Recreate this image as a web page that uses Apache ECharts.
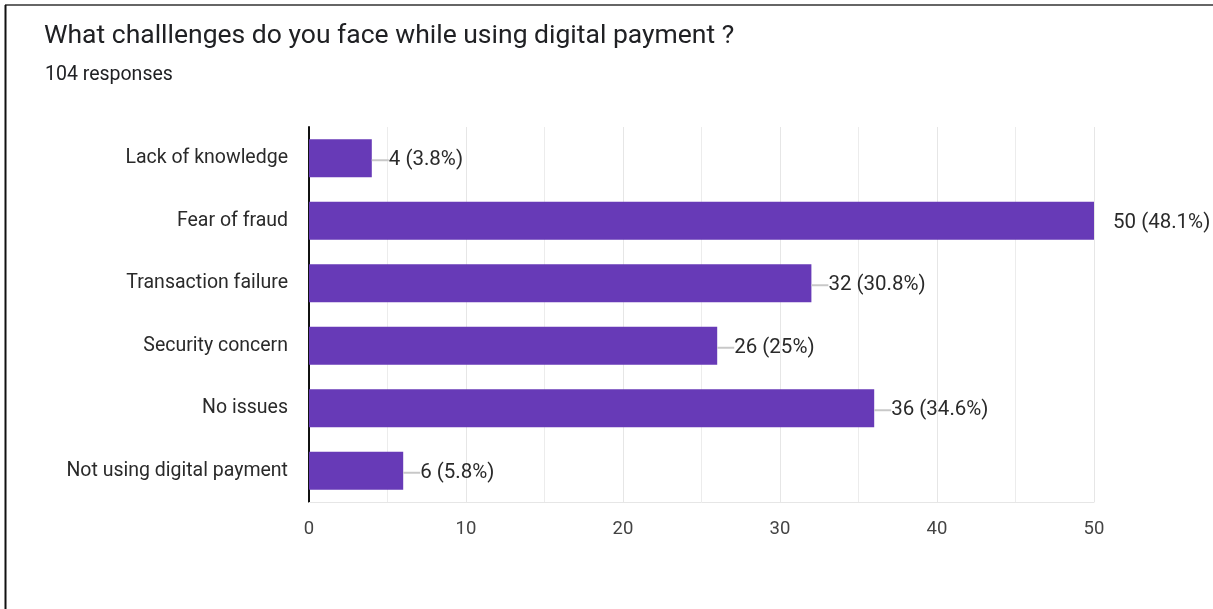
<!DOCTYPE html>
<html>
<head>
<meta charset="utf-8">
<script src="https://cdn.jsdelivr.net/npm/echarts@6/dist/echarts.min.js"></script>
<style>
  html, body { margin: 0; padding: 0; background: #fff; }
  #chart { width: 1213px; height: 609px; }
</style>
</head>
<body>
<div id="chart"></div>
<script>
// Survey question and response count
const questionTitle = 'What challlenges do you face while using digital payment ?';
const responseNote = '104 responses';

// Answer options, top to bottom
const categories = [
  'Lack of knowledge',
  'Fear of fraud',
  'Transaction failure',
  'Security concern',
  'No issues',
  'Not using digital payment'
];
// Number of respondents choosing each option
const counts = [4, 50, 32, 26, 36, 6];
// Share of all responses, as printed next to each bar
const percents = ['3.8', '48.1', '30.8', '25', '34.6', '5.8'];
// Value-axis ticks
const xTicks = [0, 10, 20, 30, 40, 50];

const X_MIN = xTicks[0];
const X_MAX = xTicks[xTicks.length - 1];
const TEXT = '#2a2a2a';
const FONT = 'Roboto';

const chart = echarts.init(document.getElementById('chart'), null, { renderer: 'canvas' });

chart.setOption({
  backgroundColor: '#fff',
  animation: false,
  title: [
    {
      text: questionTitle,
      left: 44,
      top: 23,
      padding: 0,
      textStyle: { fontFamily: FONT, fontSize: 26.5, fontWeight: 'normal', color: '#202124' }
    },
    {
      text: responseNote,
      left: 45,
      top: 65,
      padding: 0,
      textStyle: { fontFamily: FONT, fontSize: 19.5, fontWeight: 'normal', color: '#202124' }
    }
  ],
  grid: { left: 309, right: 119, top: 127, bottom: 107, containLabel: false },
  xAxis: {
    type: 'value',
    min: X_MIN,
    max: X_MAX,
    interval: 10,
    axisLine: { show: true, lineStyle: { color: '#e6e6e6', width: 1 } },
    axisTick: { show: false },
    axisLabel: { margin: 18, fontFamily: FONT, fontSize: 18.5, color: '#444' },
    splitLine: { show: true, lineStyle: { color: '#e6e6e6', width: 1 } },
    minorTick: { show: false, splitNumber: 2 },
    minorSplitLine: { show: true, lineStyle: { color: '#ececec', width: 1 } }
  },
  yAxis: {
    type: 'category',
    inverse: true,
    data: categories,
    axisLine: { show: true, lineStyle: { color: '#111', width: 2 } },
    axisTick: { show: false },
    axisLabel: { margin: 21, padding: [4, 0, 0, 0], fontFamily: FONT, fontSize: 19.5, color: TEXT },
    splitLine: { show: false }
  },
  series: [{
    type: 'bar',
    data: counts,
    barWidth: 38,
    itemStyle: { color: '#673ab7' },
    label: {
      show: true,
      position: 'right',
      distance: 0,
      padding: [4, 0, 0, 0],
      formatter: function (p) {
        const txt = p.value + ' (' + percents[p.dataIndex] + '%)';
        // bars reaching the axis end get their label set off without a leader
        return (p.value >= X_MAX ? '{gap|}' : '{ln|}') + '{t|' + txt + '}';
      },
      rich: {
        ln: { width: 17, height: 2, backgroundColor: '#c8c8c8', verticalAlign: 'middle' },
        gap: { width: 19, height: 2, verticalAlign: 'middle' },
        t: { fontFamily: FONT, fontSize: 20.5, color: TEXT, verticalAlign: 'middle' }
      }
    }
  }],
  graphic: [
    {
      type: 'line',
      shape: { x1: 5, y1: 5, x2: 1213, y2: 5 },
      style: { stroke: '#666', lineWidth: 2 }
    },
    {
      type: 'line',
      shape: { x1: 5.5, y1: 5, x2: 5.5, y2: 609 },
      style: { stroke: '#111', lineWidth: 2 }
    }
  ]
});
</script>
</body>
</html>
